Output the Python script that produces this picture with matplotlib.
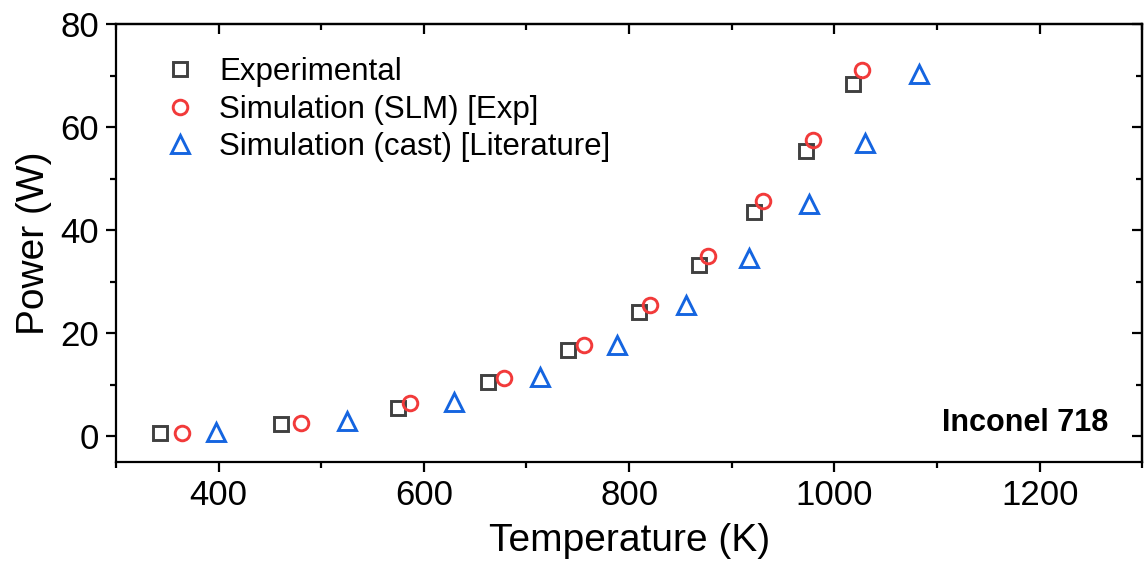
import matplotlib
matplotlib.use("Agg")
import matplotlib.pyplot as plt
from matplotlib.ticker import MultipleLocator

plt.rcParams['font.family'] = ['Liberation Sans', 'DejaVu Sans']

exp_T = [343, 461, 575, 663, 740, 810, 868, 922, 972, 1018]
exp_P = [0.6, 2.4, 5.6, 10.5, 16.7, 24.1, 33.2, 43.5, 55.3, 68.4]

slm_T = [364, 480, 587, 678, 756, 820, 877, 930, 979, 1027]
slm_P = [0.6, 2.7, 6.4, 11.3, 17.8, 25.6, 35.0, 45.6, 57.6, 71.1]

cast_T = [398, 525, 629, 713, 788, 855, 917, 975, 1030, 1082]
cast_P = [0.8, 3.0, 6.6, 11.5, 17.7, 25.5, 34.7, 45.1, 57.0, 70.4]

labels = ["Experimental", "Simulation (SLM) [Exp]", "Simulation (cast) [Literature]"]

fig = plt.figure(figsize=(11.47, 5.63), dpi=100)
ax = fig.add_axes([0.101, 0.179, 0.895, 0.778])

ax.plot(exp_T, exp_P, ls='none', marker='s', ms=9.5, mfc='none', mec='#404040', mew=2.1, label=labels[0])
ax.plot(slm_T, slm_P, ls='none', marker='o', ms=10.5, mfc='none', mec='#f23a3a', mew=2.1, label=labels[1])
ax.plot(cast_T, cast_P, ls='none', marker='^', ms=12.5, mfc='none', mec='#1565e0', mew=2.1, label=labels[2])

ax.set_xlim(300, 1300)
ax.set_ylim(-5, 80)
ax.xaxis.set_major_locator(MultipleLocator(200))
ax.xaxis.set_minor_locator(MultipleLocator(100))
ax.yaxis.set_major_locator(MultipleLocator(20))
ax.yaxis.set_minor_locator(MultipleLocator(10))

for s in ax.spines.values():
    s.set_linewidth(1.6)

ax.tick_params(axis='both', which='major', direction='out', length=7, width=1.6, labelsize=25, pad=5)
ax.tick_params(axis='both', which='minor', direction='out', length=4, width=1.6)

# mirrored inward ticks on top and right
sec_x = ax.secondary_xaxis('top')
sec_x.xaxis.set_major_locator(MultipleLocator(200))
sec_x.xaxis.set_minor_locator(MultipleLocator(100))
sec_x.tick_params(which='major', direction='in', length=7, width=1.6, labeltop=False)
sec_x.tick_params(which='minor', direction='in', length=4, width=1.6)
sec_x.spines['top'].set_linewidth(1.6)
sec_y = ax.secondary_yaxis('right')
sec_y.yaxis.set_major_locator(MultipleLocator(20))
sec_y.yaxis.set_minor_locator(MultipleLocator(10))
sec_y.tick_params(which='major', direction='in', length=7, width=1.6, labelright=False)
sec_y.tick_params(which='minor', direction='in', length=4, width=1.6)
sec_y.spines['right'].set_linewidth(1.6)

ax.set_xlabel("Temperature (K)", fontsize=28, labelpad=8)
ax.set_ylabel("Power (W)", fontsize=28, labelpad=6)

ax.legend(loc='upper left', frameon=False, fontsize=22.5, handletextpad=0.75,
          labelspacing=0.24, borderaxespad=0.0, bbox_to_anchor=(0.035, 0.953), handlelength=1.0)

ax.text(0.967, 0.055, "Inconel 718", transform=ax.transAxes, ha='right', va='bottom',
        fontsize=22, fontweight='bold')

fig.savefig("out.png", dpi=100)
